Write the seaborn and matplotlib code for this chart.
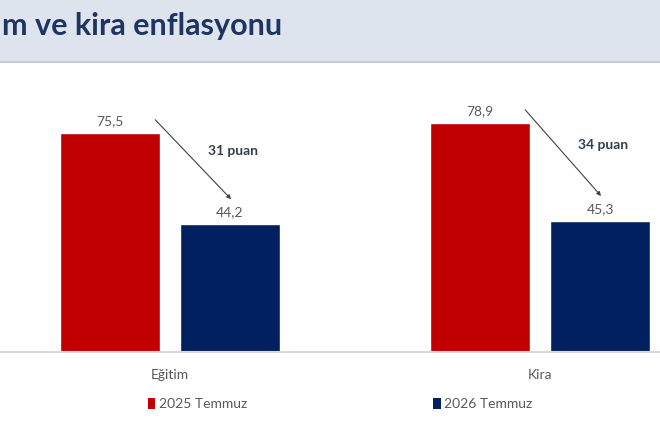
import matplotlib
matplotlib.use("Agg")
import matplotlib.pyplot as plt
import seaborn as sns
import pandas as pd
from matplotlib.patches import Rectangle, Patch

categories = ["Eğitim", "Kira"]
series = ["2025 Temmuz", "2026 Temmuz"]
values_2025 = [75.5, 78.9]
values_2026 = [44.2, 45.3]
drop_labels = ["31 puan", "34 puan"]
title = "m ve kira enflasyonu"

sns.set_theme(style="white")
plt.rcParams["font.family"] = ["Lato", "DejaVu Sans"]

df = pd.DataFrame({
    "cat": categories * 2,
    "series": [series[0]] * 2 + [series[1]] * 2,
    "val": values_2025 + values_2026,
})

W, H = 660, 440
fig = plt.figure(figsize=(6.6, 4.4), dpi=100)
fig.patch.set_facecolor("white")

# header band
fig.patches.append(Rectangle((0, 1 - 61 / H), 1, 61 / H, transform=fig.transFigure,
                             facecolor="#dde4ee", edgecolor="none", zorder=0))
fig.patches.append(Rectangle((0, 1 - 63 / H), 1, 2 / H, transform=fig.transFigure,
                             facecolor="#c9ced6", edgecolor="none", zorder=0))
fig.text(2 / W, 1 - 35.5 / H, title, ha="left", va="baseline", fontsize=22,
         fontweight="bold", color="#1f3460")

ax = fig.add_axes([0, 88 / H, 1, 290 / H])
palette = {series[0]: "#c00000", series[1]: "#002060"}
sns.barplot(data=df, x="cat", y="val", hue="series", order=categories, hue_order=series,
            palette=palette, width=0.649, gap=0.167, saturation=1, ax=ax, legend=False)

ax.set_xlim(-170 / 370, (W - 170) / 370)
ax.set_ylim(0, 100)
ax.set_xlabel("")
ax.set_ylabel("")
ax.set_yticks([])
for s in ["left", "right", "top"]:
    ax.spines[s].set_visible(False)
ax.spines["bottom"].set_color("#d9d9d9")
ax.spines["bottom"].set_linewidth(1.5)
ax.tick_params(axis="x", length=0, pad=12, labelsize=10, labelcolor="#595959")
ax.patch.set_alpha(0)

for cont in ax.containers:
    ax.bar_label(cont, labels=[f"{v:.1f}".replace(".", ",") for v in cont.datavalues],
                 padding=4, fontsize=10, color="#595959")

for i, (v1, v2) in enumerate(zip(values_2025, values_2026)):
    ax.annotate("", xy=(i + 0.165, v2 + 8.5), xytext=(i - 0.04, v1 + 4.6),
                arrowprops=dict(arrowstyle="-|>", color="#404040", lw=0.8,
                                mutation_scale=6, shrinkA=0, shrinkB=0))
    ax.text(i + 0.17, (v1 + v2) / 2 + 9.4, drop_labels[i], ha="center", va="center",
            fontsize=10, fontweight="bold", color="#333f50")

handles = [Patch(facecolor=palette[s], edgecolor="none") for s in series]
fig.legend(handles, series, loc="center", bbox_to_anchor=(340 / W, 1 - 404 / H),
           ncol=2, frameon=False, fontsize=10, labelcolor="#595959",
           handlelength=0.55, handleheight=0.8, handletextpad=0.25, columnspacing=13.4)

fig.savefig("out.png", dpi=100)
